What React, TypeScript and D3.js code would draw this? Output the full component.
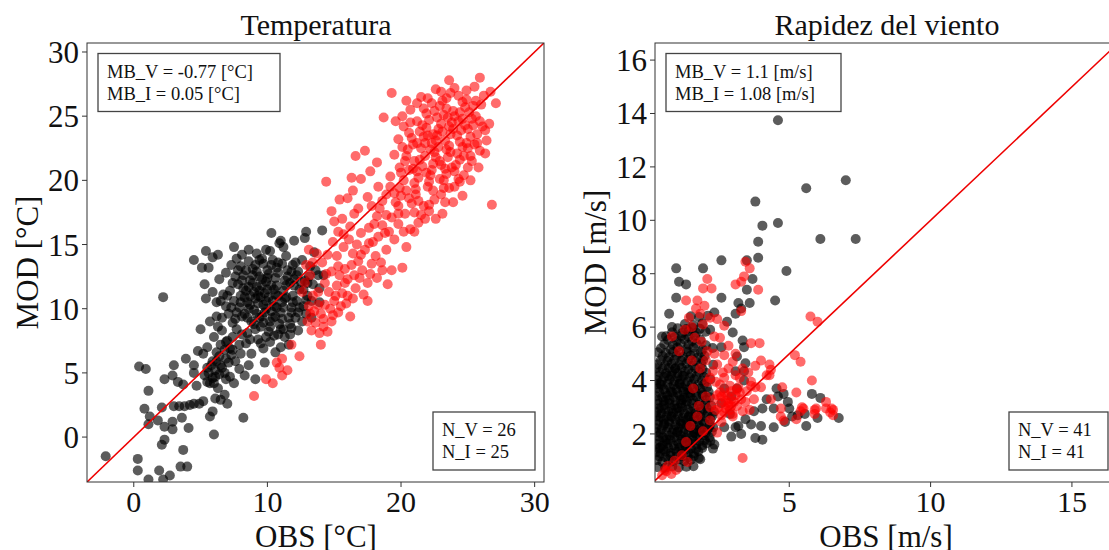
import React from 'react';
import * as d3 from 'd3';

const FONT = "'Liberation Serif', 'Times New Roman', 'DejaVu Serif', serif";

type P = [number, number];

// Temperatura — invierno (negro)
const tempInvierno: P[] = [
  [-2.1,-1.5],[0.3,-1.7],[0.3,-2.6],[1.9,-2.6],[1.1,-3.3],[2.2,-3.3],[2.7,-3.0],[2.1,-0.6],[2.3,-0.2],[3.7,-1.0],
  [3.5,-2.3],[4.0,-2.3],[2.2,10.9],[0.4,5.5],[0.9,5.3],[1.1,3.6],[0.8,2.2],[1.1,1.0],[1.2,1.6],[1.8,1.3],
  [2.3,4.5],[3.0,5.6],[2.9,4.8],[2.1,2.3],[2.9,1.2],[2.3,0.8],[2.9,0.6],[3.6,1.5],[3.0,2.4],[3.4,2.4],
  [3.8,2.4],[4.2,2.5],[4.5,2.6],[4.9,2.6],[5.2,2.8],[4.1,0.7],[4.5,5.6],[3.9,6.1],[3.3,4.3],[3.7,4.1],
  [4.5,5.0],[4.7,4.0],[4.5,13.8],[5.4,14.5],[5.1,13.2],[5.6,13.2],[5.9,14.0],[6.3,14.2],[5.3,11.9],[7.5,14.8],
  [10.3,15.9],[11.0,15.3],[10.9,15.1],[12.0,15.3],[12.9,16.0],[12.8,15.5],[14.1,16.1],[13.5,14.4],[5.0,8.4],[5.7,1.6],
  [6.0,0.2],[8.2,1.5],[9.1,4.5],[9.8,5.8],
  [5.3,4.8],[5.6,5.0],[5.9,4.6],[6.1,5.2],[6.4,4.9],[5.8,5.6],[6.2,5.9],[6.6,5.4],[5.5,4.3],[6.0,4.2],
  [6.3,3.8],[6.8,3.3],[6.5,2.9],[7.0,2.6],[6.1,3.0],[5.9,2.0],[6.4,6.3],[6.8,6.8],[6.5,7.2],[7.0,7.5],
  [7.3,6.4],[7.6,5.9],[7.9,5.3],[8.3,4.8],[8.6,5.6],[7.2,4.7],[7.5,4.2],[6.9,4.5],[5.2,6.5],[5.5,7.0],
  [4.8,6.7],[6.0,7.8],[6.3,8.6],[5.7,9.0],[6.6,9.3],[5.4,10.8],[5.9,11.3],[6.2,10.5],[6.7,11.1],[6.4,12.3],
  [6.9,12.8],[7.3,13.4],[7.7,13.9],[8.1,14.2],[8.6,14.6],[9.2,14.3],[9.6,13.9],[10.2,14.5],[10.8,13.6],[11.4,14.1],
  [11.9,13.4],[12.3,12.9],[12.6,13.8],[13.1,12.5],[13.4,11.9],[13.8,12.6],[13.9,11.6],[13.2,13.3],[12.7,11.5],[12.9,10.7],
  [12.4,10.1],[12.1,9.3],[12.6,9.0],[11.8,8.5],[11.3,7.8],[11.6,7.2],[11.0,7.0],[10.6,6.6],[10.2,7.4],[9.7,6.9],
  [9.3,7.6],[8.8,6.5],[8.4,7.3],[8.1,8.0],[7.7,8.4],[7.4,8.9],[7.1,9.6],[6.9,10.2],
  [7.6,9.2],[7.9,10.1],[8.0,11.0],[7.8,11.9],[8.2,12.6],[8.3,9.6],[8.5,10.5],[8.4,11.4],[8.7,12.2],[8.9,13.1],
  [8.8,9.0],[9.0,9.9],[9.1,10.8],[9.2,11.7],[9.4,12.5],[9.5,8.6],[9.6,9.4],[9.7,10.3],[9.8,11.2],[9.9,12.1],
  [10.0,13.0],[10.1,8.2],[10.2,9.0],[10.3,9.8],[10.4,10.6],[10.5,11.5],[10.6,12.4],[10.7,13.2],[10.9,8.8],[11.0,9.7],
  [11.1,10.5],[11.2,11.4],[11.3,12.2],[11.5,13.0],[11.6,9.3],[11.8,10.1],[11.9,11.0],[12.0,11.8],[12.2,12.6],[8.1,9.4],
  [8.6,10.0],[9.3,10.4],[9.0,11.3],[9.6,11.8],[10.1,10.9],[10.7,10.1],[10.3,11.8],[9.4,9.3],[8.9,12.6],[10.6,9.4],
  [9.9,10.0],[9.5,10.9],[8.7,11.0],[10.8,11.0],[10.0,12.4],[9.2,12.9],[11.4,10.9],[11.7,12.0],[8.3,10.9],[7.5,10.6],
  [7.2,11.4],[7.6,12.5],[8.0,13.3],[9.7,13.5],[10.4,13.8],[11.1,13.5],[12.4,11.5],[12.8,12.2],[13.0,11.0],[12.3,8.3],
  [11.7,8.0],[10.8,8.0],[9.9,7.8],[9.1,8.4],[8.5,8.1],[7.9,7.2],[7.4,7.8],[8.6,13.7],[9.9,14.6],[11.2,14.8],
  [13.6,13.0],[14.2,12.6],[13.9,10.5],[13.3,9.3],[12.9,9.6],
  [7.7,9.7],[8.0,10.5],[8.2,11.6],[8.1,12.2],[8.4,13.0],[8.5,9.3],[8.7,10.3],[8.6,11.7],[8.9,12.0],[9.1,13.4],
  [9.0,8.8],[9.2,9.6],[9.3,11.0],[9.4,11.4],[9.6,12.3],[9.7,8.9],[9.8,9.7],[9.9,10.6],[10.0,11.5],[10.1,12.7],
  [10.2,8.6],[10.4,9.3],[10.5,10.2],[10.6,11.1],[10.7,11.8],[10.8,12.8],[11.0,8.4],[11.1,9.2],[11.2,10.1],[11.3,10.8],
  [11.4,11.8],[11.5,12.5],[11.7,8.8],[11.8,9.7],[11.9,10.5],[12.0,12.3],[12.2,10.6],[12.3,9.7],[12.5,12.1],[12.7,10.2],
  [7.3,10.1],[7.0,11.0],[7.4,12.0],[7.8,13.0],[9.4,13.8],[10.3,13.4],[11.8,12.9],[12.1,13.6],[13.0,12.0],[13.3,10.6],
  [6.6,8.3],[6.9,7.4],[7.2,6.9],[8.0,6.5],[8.7,7.6],[9.5,7.3],[10.5,7.9],[11.2,8.4],[6.2,9.4],[6.5,10.6],
  [5.7,4.2],[6.1,4.7],[6.5,5.6],[6.8,5.0],[7.1,5.8],[5.5,5.4],[6.9,6.1],[7.4,6.8],[6.2,6.6],[5.9,5.9]
];

// Temperatura — verano (rojo)
const tempVerano: P[] = [
  [9.0,3.2],[9.9,4.5],[10.4,4.2],[10.7,5.8],[11.1,4.8],[11.5,5.2],[11.1,6.1],[10.9,5.4],[12.4,6.3],[11.8,7.2],
  [14.4,19.9],[16.6,21.9],[16.3,20.2],[17.3,22.3],[18.7,24.9],[19.3,26.8],[26.8,18.1],[27.1,26.0],[26.7,26.9],[25.9,28.0],
  [23.6,27.8],[26.3,23.9],[26.6,24.4],[20.1,13.2],[20.4,14.8],[19.3,13.0],[18.2,12.4],[18.6,13.0],[15.0,16.8],[15.6,17.0],
  [15.7,15.8],[16.2,16.4],[16.5,17.4],[16.8,17.8],[14.0,7.2],
  [13.0,9.0],[13.3,8.3],[13.6,8.9],[13.9,8.1],[14.2,8.6],[14.5,8.2],[14.8,9.0],[13.5,9.8],[14.0,9.6],[14.3,10.3],
  [14.7,10.0],[15.0,10.6],[15.3,9.7],[14.6,11.3],[15.2,11.8],[15.6,11.2],[15.9,10.4],[16.2,9.4],[16.4,10.8],[16.6,11.6],
  [16.0,12.3],[16.9,12.4],[17.2,11.1],[17.5,10.6],[17.1,13.0],[17.5,12.0],[17.8,13.5],[18.1,14.1],[17.3,14.6],[16.8,13.7],
  [16.4,14.3],[15.8,13.1],[15.4,12.6],[14.8,12.9],[14.3,12.0],[13.8,11.3],[13.4,11.0],[13.1,10.2],[15.2,14.1],[15.7,14.8],
  [16.1,15.4],[16.7,15.0],[17.0,15.9],[17.6,16.3],[17.9,15.2],[18.3,15.6],[18.6,16.5],[18.9,17.3],[18.4,17.8],[17.8,18.0],
  [18.9,18.9],[18.3,19.5],[19.2,20.3],[19.5,19.0],[19.8,18.0],[19.1,16.0],[19.5,15.4],[18.9,14.6],[18.5,13.6],[19.0,11.9],
  [19.8,16.6],[20.3,17.4],[20.7,16.2],[21.0,17.5],[21.3,16.7],[21.8,17.0],[22.1,17.6],[20.6,18.6],[21.1,18.9],[19.9,19.4],
  [17.5,18.7],[17.0,20.1],[17.7,20.7],[18.2,21.4],[16.0,18.6],[15.3,16.0],[14.9,15.2],[14.5,14.2],[14.1,13.6],[13.7,14.3],
  [13.4,13.6],[13.2,12.6],[12.8,12.0],[12.6,11.3],[12.9,13.4],[13.1,14.6],[15.4,18.5],[16.4,19.2],[14.8,17.6],
  [20.0,20.6],[20.3,21.5],[20.5,22.4],[20.8,23.3],[20.2,24.2],[21.0,19.8],[21.2,20.7],[21.4,21.6],[21.5,22.5],[21.7,23.4],
  [21.6,24.3],[21.9,25.2],[22.0,19.5],[22.2,20.4],[22.4,21.3],[22.5,22.2],[22.6,23.1],[22.8,24.0],[22.7,24.9],[22.9,25.8],
  [23.0,18.9],[23.2,20.0],[23.3,20.9],[23.5,21.8],[23.6,22.7],[23.7,23.6],[23.8,24.5],[23.9,25.4],[23.4,26.4],[24.1,21.2],
  [24.2,22.1],[24.4,23.0],[24.5,23.9],[24.6,24.8],[24.8,25.7],[24.3,26.6],[25.0,22.5],[25.2,23.4],[25.4,24.3],[25.1,25.3],
  [25.6,26.2],[25.3,21.5],[25.7,22.9],[25.9,24.6],[20.4,19.2],[21.3,18.4],[22.1,18.1],[23.1,17.4],[22.6,17.0],[21.7,18.0],
  [24.0,19.5],[24.7,20.4],[23.9,18.3],[22.0,26.4],[22.6,27.1],[23.0,26.9],[24.0,27.2],[24.9,27.0],[25.5,27.3],[21.2,26.0],
  [20.7,25.5],[20.1,25.0],[19.6,24.6],[19.8,23.2],[19.5,22.0],[19.9,21.0],[20.9,20.9],[21.8,21.9],[22.3,22.9],[23.1,23.8],
  [23.5,24.9],[22.9,21.5],[22.0,23.5],[21.2,24.6],[24.0,20.7],[24.7,21.9],[25.6,25.0],[26.0,25.9],[26.2,26.6],[24.9,26.3],
  [23.4,25.6],[21.9,24.1],[20.6,23.7],[22.4,19.2],[23.6,19.4],[20.8,18.2],[19.8,17.4],[21.5,17.3],[26.3,22.1],[26.4,23.1],
  [25.8,21.0],[25.2,20.0],[24.6,18.8],
  [20.2,20.0],[20.6,20.8],[20.4,21.9],[20.9,22.8],[20.7,24.5],[21.1,19.3],[21.3,20.2],[21.6,21.1],[21.8,22.9],[21.4,23.8],
  [22.1,24.7],[21.7,25.6],[22.1,19.9],[22.3,20.8],[22.6,21.8],[22.8,22.6],[22.4,23.6],[23.0,24.4],[22.5,25.4],[23.1,26.2],
  [23.2,19.4],[23.4,20.5],[23.0,21.2],[23.7,22.2],[23.3,23.1],[23.9,24.0],[24.0,25.0],[23.7,26.8],[24.3,20.1],[24.4,21.6],
  [24.6,22.6],[24.2,23.5],[24.8,24.3],[24.4,25.3],[24.6,26.1],[25.0,21.0],[25.2,21.9],[25.5,22.8],[25.0,24.0],[25.3,24.8],
  [25.4,25.8],[25.7,23.6],[25.9,22.3],[26.1,24.2],[21.0,21.5],[21.9,20.6],[22.9,20.1],[23.8,21.0],[22.2,22.4],[21.2,22.9],
  [22.7,23.5],[23.6,24.2],[24.3,24.6],[23.2,25.1],[22.3,26.0],[21.5,26.5],[20.4,26.2],[24.9,22.9],[23.4,22.4],[20.1,22.6],
  [14.2,9.2],[14.9,9.5],[15.5,10.2],[15.1,11.0],[16.0,11.0],[16.5,12.6],[15.3,13.3],[16.3,13.4],[17.0,14.2],[17.6,15.1],
  [18.0,16.6],[18.8,15.9],[19.3,17.1],[19.6,18.3],[18.6,18.4],[19.2,19.5],[13.8,10.3],[13.2,9.6],[14.4,12.7],[15.8,12.0],
  [17.7,12.7],[18.2,17.2],[20.2,16.0],[21.0,16.0],[22.5,18.5],[23.3,18.3],[24.4,19.9],[20.0,18.8]
];

// Rapidez del viento — invierno (negro)
const vientoInvierno: P[] = [
  [4.6,13.75],[7.0,11.5],[5.6,11.2],[3.8,10.7],[4.05,9.8],[4.6,9.9],[3.9,9.2],[6.1,9.3],[7.35,9.3],[3.9,8.6],
  [3.5,8.5],[2.6,8.5],[4.9,8.1],[1.95,8.2],[1.0,8.2],[1.1,7.7],[1.35,7.6],[4.5,7.0],[3.7,7.8],[3.5,7.4],
  [1.0,7.1],[0.5,5.65],[0.75,6.5],[0.85,6.0],[3.3,6.7],[3.6,6.9],[3.2,6.9],[6.75,2.6],[6.1,3.35],[5.8,3.5],
  [5.6,2.3],[5.3,2.7],[5.1,2.65],[4.95,3.2],[5.0,2.95],[3.4,4.35],[3.45,4.65],[3.15,4.9],[3.4,5.25],
  [4.05,1.78],[3.8,1.85],[4.0,2.3],[3.65,2.35],[3.3,2.0],[2.95,1.9],[4.45,2.25],[4.45,2.95],[4.05,2.95],[4.2,3.3],
  [4.55,3.7],[4.6,3.4],[3.1,2.25],[3.45,2.55],[3.75,2.85],[4.8,3.5],[4.85,2.45],[5.55,2.75],[6.0,2.6],[3.2,2.3],
  [2.7,2.25],[2.35,1.6],[2.3,1.45],[1.85,1.05],[1.8,1.1],
  [3.4,4.0],[3.1,4.35],[3.35,5.5],[3.0,5.8],[2.8,6.2],[2.6,7.1],[2.35,6.55],[2.2,5.9],[2.6,5.25],[3.1,6.5],
  [3.15,3.7],[2.95,3.4],[2.7,3.7],[2.6,3.15],[2.9,2.75],
  [0.32,1.02],[0.51,0.95],[0.73,1.04],[0.88,0.97],[1.12,1.05],[1.28,0.98],[1.52,1.03],
  [0.29,1.31],[0.46,1.27],[0.62,1.34],[0.81,1.29],[1.02,1.33],[1.19,1.26],[1.42,1.32],[1.63,1.28],[1.78,1.35],
  [0.31,1.62],[0.52,1.58],[0.68,1.64],[0.91,1.57],[1.09,1.63],[1.32,1.59],[1.48,1.66],[1.71,1.61],[1.92,1.57],[2.08,1.65],
  [0.36,1.91],[0.54,1.87],[0.77,1.93],[0.94,1.88],[1.16,1.94],[1.33,1.86],[1.57,1.92],[1.74,1.89],[1.96,1.95],[2.17,1.88],
  [0.28,2.21],[0.49,2.18],[0.71,2.24],[0.92,2.17],[1.08,2.23],[1.31,2.19],[1.49,2.25],[1.72,2.16],[1.88,2.22],[2.11,2.18],[2.31,2.24],
  [0.37,2.49],[0.56,2.53],[0.74,2.47],[0.97,2.54],[1.14,2.48],[1.36,2.52],[1.54,2.46],[1.77,2.53],[1.93,2.49],[2.21,2.55],
  [0.31,2.81],[0.48,2.77],[0.72,2.83],[0.89,2.79],[1.11,2.84],[1.29,2.76],[1.52,2.82],[1.69,2.78],[1.91,2.85],[2.12,2.79],[2.34,2.83],
  [0.34,3.12],[0.57,3.08],[0.76,3.14],[0.93,3.07],[1.17,3.13],[1.34,3.09],[1.56,3.15],[1.79,3.08],[2.02,3.12],[2.24,3.06],
  [0.29,3.41],[0.51,3.37],[0.69,3.43],[0.91,3.38],[1.12,3.44],[1.28,3.36],[1.51,3.42],[1.72,3.39],[1.94,3.45],[2.19,3.37],
  [0.36,3.71],[0.56,3.67],[0.79,3.73],[1.01,3.68],[1.21,3.74],[1.39,3.66],[1.62,3.72],[1.84,3.69],[2.09,3.75],
  [0.31,4.02],[0.49,3.97],[0.76,4.04],[0.94,3.98],[1.16,4.03],[1.41,3.96],[1.64,4.05],[1.91,3.99],[2.21,4.04],
  [0.41,4.31],[0.64,4.27],[0.86,4.33],[1.04,4.28],[1.31,4.34],[1.54,4.26],[1.81,4.32],[2.06,4.29],
  [0.34,4.61],[0.61,4.57],[0.84,4.63],[1.11,4.58],[1.36,4.64],[1.59,4.56],[1.89,4.62],[2.31,4.59],
  [0.52,4.91],[0.74,4.87],[1.01,4.93],[1.24,4.88],[1.51,4.94],[1.76,4.86],[2.01,4.92],
  [0.46,5.21],[0.81,5.17],[1.04,5.24],[1.36,5.18],[1.61,5.23],[1.94,5.16],[2.29,5.22],
  [0.71,5.52],[1.02,5.48],[1.29,5.54],[1.56,5.47],[1.86,5.53],
  [0.86,5.81],[1.21,5.78],[1.44,5.84],[1.71,5.79],[2.04,5.83],
  [1.31,6.12],[1.61,6.08],[1.92,6.14],[1.52,6.41],[1.81,6.38],[2.12,6.43],
  [0.42,1.48],[0.66,1.78],[0.58,2.38],[0.82,2.66],[0.47,2.97],[0.63,3.27],[0.86,3.56],[0.44,3.86],[0.71,4.17],[0.97,4.46],
  [1.22,1.44],[1.03,2.06],[1.24,2.36],[1.06,2.97],[1.23,3.27],[1.11,3.87],[1.27,4.17],[1.46,2.64],[1.43,3.54],[1.62,2.04],
  [0.35,0.76],[0.61,0.73],[0.86,0.78],[1.09,0.74],[1.36,0.77],[1.61,0.79],
  [0.40,1.16],[0.61,1.13],[0.80,1.18],[1.01,1.14],[1.20,1.17],[1.41,1.12],[1.62,1.16],
  [0.37,1.46],[0.55,1.43],[0.72,1.47],[0.93,1.44],[1.11,1.48],[1.33,1.42],[1.52,1.46],[1.71,1.44],[1.92,1.47],
  [0.40,1.76],[0.61,1.73],[0.80,1.77],[1.02,1.74],[1.21,1.78],[1.41,1.72],[1.60,1.76],[1.82,1.73],[2.01,1.77],[2.21,1.74],
  [0.30,2.06],[0.45,2.03],[0.65,2.07],[0.86,2.04],[1.05,2.08],[1.25,2.02],[1.44,2.06],[1.66,2.03],[1.84,2.07],[2.05,2.04],[2.26,2.08],
  [0.35,2.36],[0.56,2.33],[0.77,2.37],[0.98,2.34],[1.17,2.38],[1.38,2.32],[1.59,2.36],[1.79,2.33],[2.00,2.37],[2.19,2.34],
  [0.30,2.66],[0.45,2.63],[0.66,2.67],[0.84,2.64],[1.06,2.68],[1.24,2.62],[1.44,2.66],[1.63,2.63],[1.85,2.67],[2.04,2.64],[2.28,2.68],
  [0.39,2.96],[0.61,2.93],[0.82,2.97],[1.01,2.94],[1.21,2.98],[1.42,2.92],[1.63,2.96],[1.87,2.93],[2.08,2.97],
  [0.34,3.26],[0.56,3.23],[0.76,3.27],[0.98,3.24],[1.17,3.28],[1.38,3.22],[1.60,3.26],[1.83,3.23],[2.06,3.27],
  [0.40,3.56],[0.62,3.53],[0.81,3.57],[1.04,3.54],[1.26,3.58],[1.48,3.52],[1.69,3.56],[1.92,3.53],[2.15,3.57],
  [0.30,3.86],[0.49,3.83],[0.69,3.87],[0.91,3.84],[1.12,3.88],[1.33,3.82],[1.55,3.86],[1.77,3.83],[1.99,3.87],
  [0.36,4.16],[0.57,4.13],[0.83,4.17],[1.05,4.14],[1.22,4.18],[1.48,4.12],[1.72,4.16],[1.98,4.13],
  [0.29,4.46],[0.52,4.43],[0.74,4.47],[0.96,4.44],[1.19,4.48],[1.43,4.42],[1.67,4.46],[1.93,4.43],
  [0.45,4.76],[0.69,4.73],[0.93,4.77],[1.18,4.74],[1.43,4.78],[1.68,4.72],[1.95,4.76],
  [0.35,5.06],[0.63,5.03],[0.89,5.07],[1.13,5.04],[1.38,5.08],[1.64,5.02],[1.88,5.06],
  [0.58,5.36],[0.89,5.33],[1.16,5.37],[1.44,5.34],[1.72,5.38],[2.05,5.32],
  [0.64,5.66],[0.95,5.63],[1.18,5.67],[1.43,5.64],[1.66,5.68],
  [1.05,5.96],[1.36,5.93],[1.58,5.97],[1.84,5.94]
];

// Rapidez del viento — verano (rojo)
const vientoVerano: P[] = [
  [3.45,8.45],[3.6,8.2],[3.4,7.9],[3.3,7.7],[3.9,7.4],[2.1,7.8],[2.25,7.45],[1.95,7.45],[1.75,7.0],[1.35,7.0],
  [3.1,7.6],[3.3,6.6],[3.95,5.4],[4.0,4.75],[5.75,6.4],[6.0,6.2],[5.2,4.95],[5.4,4.7],[5.8,4.0],[4.35,4.4],
  [4.3,4.2],[4.75,3.75],[5.25,3.55],[6.3,3.2],[6.5,2.95],[6.45,2.8],[5.95,2.95],[5.5,2.95],[5.4,2.85],[5.9,2.9],
  [4.35,3.3],[4.7,2.95],[3.35,1.1],[0.83,0.5],[0.65,0.6],[0.5,0.45],
  [4.0,3.75],[3.8,3.75],[3.65,3.8],[4.3,4.6],[4.2,4.2],[4.7,2.65],[4.8,2.5],[5.25,2.55],[5.45,3.0],[5.9,2.75],
  [6.3,2.95],[6.55,2.7],[6.55,2.9],[3.65,3.95],[3.25,3.55],[3.0,2.65],[2.85,3.05],[2.6,3.4],[2.35,3.3],[2.7,2.8],
  [2.95,3.3],[3.15,3.05],[3.3,3.3],[2.9,3.8],[2.7,4.1],[2.45,4.6],[2.85,4.45],[2.7,4.95],[3.1,5.0],[2.85,5.3],
  [2.35,5.65],[2.7,6.05],[2.2,6.35],[1.7,6.7],[1.45,6.35],[1.3,5.9],[1.95,6.1],[2.1,5.1],[1.85,4.45],[2.1,3.95],
  [1.6,3.7],[1.8,3.05],[2.2,2.5],[1.95,2.1],[2.45,2.05],[2.6,2.45],[1.4,0.95],[1.0,0.65],[0.6,0.65],[1.35,1.7],
  [1.1,5.1],[0.85,5.65],[1.55,4.75],[3.65,5.4],[3.1,4.2],[3.2,3.75],[3.8,4.55],[3.35,4.45],[2.2,4.1],[2.35,5.0],
  [2.5,3.0],[2.65,3.2],[2.8,3.45],[2.95,3.6],[3.05,3.2],[2.75,2.95],[2.6,2.7],[2.9,2.9],[3.1,3.45],[2.55,3.55],
  [2.4,2.9],[2.85,3.15],[3.0,2.75],[2.7,3.55],[2.45,3.45],
  [2.55,3.85],[2.75,3.25],[2.95,3.05],[3.15,3.65],[2.65,4.3],[2.4,3.95],[2.3,4.35],[2.05,4.75],[1.9,5.45],[1.65,5.6],
  [1.55,6.0],[1.85,6.5],[2.0,6.8],[2.45,6.3],[2.55,5.6],[3.0,4.7],[3.25,4.1],[3.5,3.6],[3.45,3.2],[3.75,3.3],
  [3.6,2.9],[2.2,3.0],[2.05,3.4],[1.75,2.65],[1.5,2.3],[1.2,1.2],[0.95,1.0],[0.7,0.8],[3.35,2.85],[3.55,4.3]
];

const tempTicksX = [0, 10, 20, 30];
const tempTicksY = [0, 5, 10, 15, 20, 25, 30];
const vientoTicksX = [5, 10, 15];
const vientoTicksY = [2, 4, 6, 8, 10, 12, 14, 16];

const tempStats = ['MB_V = -0.77 [°C]', 'MB_I = 0.05 [°C]'];
const tempCounts = ['N_V = 26', 'N_I = 25'];
const vientoStats = ['MB_V = 1.1 [m/s]', 'MB_I = 1.08 [m/s]'];
const vientoCounts = ['N_V = 41', 'N_I = 41'];

type PanelProps = {
  id: string;
  x0: number; x1: number; y0: number; y1: number;
  domX: [number, number]; domY: [number, number];
  ticksX: number[]; ticksY: number[];
  title: string; titleX: number;
  xlabel: string; xlabelX: number;
  ylabel: string; ylabelX: number;
  black: P[]; red: P[];
  stats: string[]; statsBox: [number, number, number, number];
  counts: string[]; countsBox: [number, number, number, number];
};

function Panel(p: PanelProps) {
  const sx = d3.scaleLinear().domain(p.domX).range([p.x0, p.x1]);
  const sy = d3.scaleLinear().domain(p.domY).range([p.y1, p.y0]);
  const lo = Math.max(p.domX[0], p.domY[0]);
  const hi = Math.min(p.domX[1], p.domY[1]);
  const line = d3.line<number>().x((d) => sx(d)).y((d) => sy(d));
  const [bx, by, bw, bh] = p.statsBox;
  const [nx, ny, nw, nh] = p.countsBox;
  return (
    <g>
      <defs>
        <clipPath id={p.id}>
          <rect x={p.x0} y={p.y0} width={p.x1 - p.x0} height={p.y1 - p.y0} />
        </clipPath>
      </defs>
      <g clipPath={`url(#${p.id})`}>
        {p.black.map((d, i) => (
          <circle key={'b' + i} cx={sx(d[0])} cy={sy(d[1])} r={5} fill="#000" fillOpacity={0.64} />
        ))}
        {p.red.map((d, i) => (
          <circle key={'r' + i} cx={sx(d[0])} cy={sy(d[1])} r={5} fill="#ff0000" fillOpacity={0.58} />
        ))}
        <path d={line([lo, hi]) || ''} stroke="#ee0000" strokeWidth={1.6} fill="none" />
      </g>
      <rect x={p.x0} y={p.y0} width={p.x1 - p.x0} height={p.y1 - p.y0} fill="none" stroke="#333" strokeWidth={1} />
      {p.ticksX.map((t) => (
        <g key={'tx' + t}>
          <line x1={sx(t)} x2={sx(t)} y1={p.y1} y2={p.y1 + 5} stroke="#333" />
          <text x={sx(t)} y={p.y1 + 30} textAnchor="middle" fontSize={30} fontFamily={FONT} fill="#111">{t}</text>
        </g>
      ))}
      {p.ticksY.map((t) => (
        <g key={'ty' + t}>
          <line x1={p.x0 - 5} x2={p.x0} y1={sy(t)} y2={sy(t)} stroke="#333" />
          <text x={p.x0 - 8} y={sy(t) + 11} textAnchor="end" fontSize={31} fontFamily={FONT} fill="#111">{t}</text>
        </g>
      ))}
      <text x={p.titleX} y={35} textAnchor="middle" fontSize={30} fontFamily={FONT} fill="#111">{p.title}</text>
      <text x={p.xlabelX} y={547} textAnchor="middle" fontSize={31} fontFamily={FONT} fill="#111">{p.xlabel}</text>
      <text transform={`translate(${p.ylabelX},${(p.y0 + p.y1) / 2}) rotate(-90)`} textAnchor="middle" fontSize={31} fontFamily={FONT} fill="#111">{p.ylabel}</text>
      <rect x={bx} y={by} width={bw} height={bh} fill="#fff" stroke="#444" strokeWidth={1.3} />
      {p.stats.map((s, i) => (
        <text key={'s' + i} x={bx + 9} y={by + 24 + i * 22} fontSize={18.5} fontFamily={FONT} fill="#111">{s}</text>
      ))}
      <rect x={nx} y={ny} width={nw} height={nh} fill="#fff" stroke="#444" strokeWidth={1.3} />
      {p.counts.map((s, i) => (
        <text key={'n' + i} x={nx + 9} y={ny + 24 + i * 22} fontSize={18.5} fontFamily={FONT} fill="#111">{s}</text>
      ))}
    </g>
  );
}

export default function App() {
  return (
    <svg width={1109} height={550} style={{ position: 'absolute', left: 0, top: 0, background: '#fff' }}>
      <rect x={0} y={0} width={1109} height={550} fill="#fff" />
      <Panel
        id="clipT"
        x0={87} x1={544} y0={43} y1={482}
        domX={[-3.5, 30.7]} domY={[-3.5, 30.7]}
        ticksX={tempTicksX} ticksY={tempTicksY}
        title="Temperatura" titleX={316}
        xlabel="OBS [°C]" xlabelX={316}
        ylabel="MOD [°C]" ylabelX={38}
        black={tempInvierno} red={tempVerano}
        stats={tempStats} statsBox={[98, 53.5, 182, 58]}
        counts={tempCounts} countsBox={[433, 412, 102, 58]}
      />
      <Panel
        id="clipW"
        x0={655} x1={1118} y0={43} y1={482}
        domX={[0.25, 16.63]} domY={[0.2, 16.64]}
        ticksX={vientoTicksX} ticksY={vientoTicksY}
        title="Rapidez del viento" titleX={887}
        xlabel="OBS [m/s]" xlabelX={886}
        ylabel="MOD [m/s]" ylabelX={606}
        black={vientoInvierno} red={vientoVerano}
        stats={vientoStats} statsBox={[666, 53.5, 175, 58]}
        counts={vientoCounts} countsBox={[1009, 412, 99, 58]}
      />
    </svg>
  );
}
